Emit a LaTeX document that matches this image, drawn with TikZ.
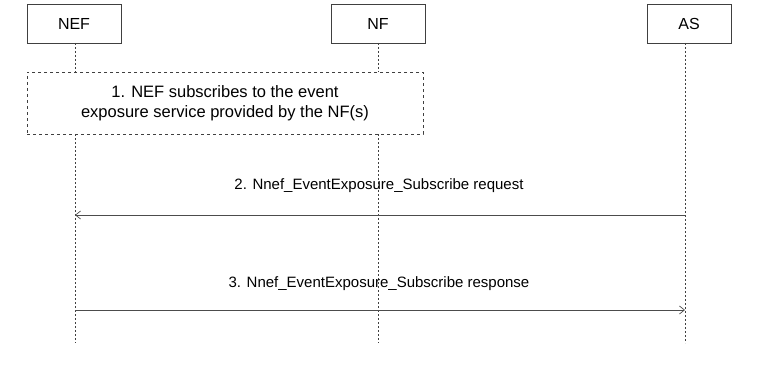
\documentclass[tikz,border=0pt]{standalone}
\usepackage{fontspec}
\setmainfont{Liberation Sans}
\usetikzlibrary{arrows.meta}
\begin{document}
\begin{tikzpicture}[x=1pt,y=-1pt,
  every node/.style={font=\fontsize{15}{20}\selectfont},
  actor/.style={draw=black!75, line width=0.8pt, minimum width=94pt, minimum height=39pt, inner sep=0pt, font=\fontsize{16}{20}\selectfont},
  lifeline/.style={draw=black!75, line width=0.8pt, dash pattern=on 2pt off 2pt},
  stepbox/.style={draw=black!75, line width=0.8pt, dashed, align=center, inner sep=0pt, font=\fontsize{16.5}{20}\selectfont},
  msg/.style={draw=black!70, line width=0.7pt, -{Straight Barb[length=5pt,width=8pt]}},
  label/.style={inner sep=0pt}]
  \useasboundingbox (0,0) rectangle (766,369);

  % participants
  \node[actor] (nef) at (74,23.5) {NEF};
  \node[actor] (nf)  at (378,23.5) {NF};
  \node[actor, minimum width=84pt] (as) at (689,23.5) {AS};

  % step 1
  \node[stepbox, minimum width=396pt, minimum height=62pt] (s1) at (225,103) {1. NEF subscribes to the event\\exposure service provided by the NF(s)};

  % lifeline end points
  \coordinate (nefA) at (75,43);
  \coordinate (nefB) at (75,72);
  \coordinate (nefC) at (75,134);
  \coordinate (nefD) at (75,343);
  \coordinate (nfA) at (378,43);
  \coordinate (nfB) at (378,72);
  \coordinate (nfC) at (378,134);
  \coordinate (nfD) at (378,343);
  \coordinate (asA) at (685,43);
  \coordinate (asD) at (685,343);

  \draw[lifeline] (nefA) -- (nefB);
  \draw[lifeline] (nefC) -- (nefD);
  \draw[lifeline] (nfA) -- (nfB);
  \draw[lifeline] (nfC) -- (nfD);
  \draw[lifeline] (asA) -- (asD);

  % messages
  \coordinate (as2) at (685,215);
  \coordinate (nef2) at (75,215);
  \draw[msg] (as2) -- (nef2);
  \node[label] (l2) at (379,186) {2. Nnef\_EventExposure\_Subscribe request};

  \coordinate (nef3) at (75,310);
  \coordinate (as3) at (685,310);
  \draw[msg] (nef3) -- (as3);
  \node[label] (l3) at (379,284) {3. Nnef\_EventExposure\_Subscribe response};
\end{tikzpicture}
\end{document}
